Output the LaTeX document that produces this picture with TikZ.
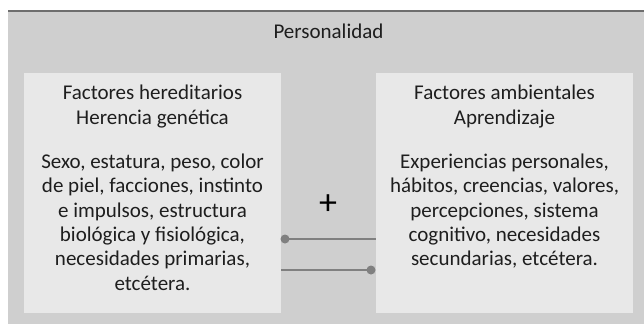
\documentclass[tikz,border=0pt]{standalone}
\usepackage{fontspec}
\setmainfont{Carlito}
\definecolor{outerbg}{HTML}{CFCFCF}
\definecolor{innerbg}{HTML}{E8E8E8}
\definecolor{topline}{HTML}{6E6E6E}
\definecolor{conn}{HTML}{808080}
\definecolor{txt}{HTML}{1E1E1E}
\begin{document}
\begin{tikzpicture}[x=1pt,y=-1pt,
  boxtext/.style={text=txt,align=center,inner sep=0pt,font=\fontsize{21}{24.4}\selectfont},
  conline/.style={draw=conn,line width=2.2pt},
  dot/.style={circle,fill=conn,inner sep=0pt,minimum size=9pt}]
\useasboundingbox (0,0) rectangle (644,324);
\fill[white] (0,0) rectangle (644,324);
\fill[outerbg] (8,11) rectangle (644,324);
\draw[topline,line width=2pt] (8,11) -- (644,11);
\node[boxtext,anchor=base] (title) at (328.5,38) {Personalidad};
\fill[innerbg] (24,73) rectangle (281,313);
\fill[innerbg] (376,73) rectangle (633,313);
\node[inner sep=0pt,minimum width=257pt,minimum height=240pt] (lbox) at (152.5,193) {};
\node[inner sep=0pt,minimum width=257pt,minimum height=240pt] (rbox) at (504.5,193) {};
\node[boxtext,anchor=north] (lhead) at (152.5,85) {Factores hereditarios\\Herencia genética};
\node[boxtext,anchor=north] (rhead) at (504.5,85) {Factores ambientales\\Aprendizaje};
\node[boxtext,anchor=north] (lbody) at (152.5,153.5) {Sexo, estatura, peso, color\\de piel, facciones, instinto\\e impulsos, estructura\\biológica y fisiológica,\\necesidades primarias,\\etcétera.};
\node[boxtext,anchor=north] (rbody) at (504.5,153.5) {Experiencias personales,\\hábitos, creencias, valores,\\percepciones, sistema\\cognitivo, necesidades\\secundarias, etcétera.};
\node[text=black,inner sep=0pt,font=\fontsize{36}{36}\selectfont] (plus) at (328,205) {+};
\coordinate (d1) at (285,239);
\coordinate (d2) at (371,270);
\draw[conline] (d1) -- (rbox.west |- d1);
\node[dot] at (d1) {};
\draw[conline] (lbox.east |- d2) -- (d2);
\node[dot] at (d2) {};
\end{tikzpicture}
\end{document}
